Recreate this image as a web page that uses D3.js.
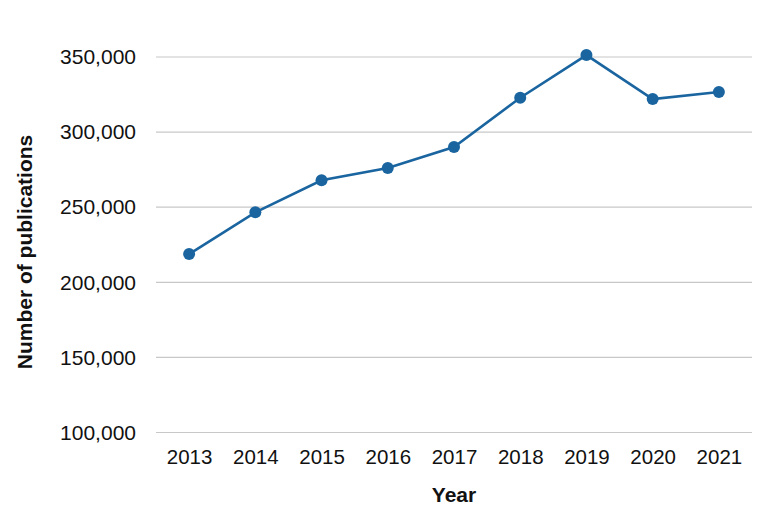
<!DOCTYPE html>
<html>
<head>
<meta charset="utf-8">
<script src="https://cdn.jsdelivr.net/npm/d3@7"></script>
<style>
  body { margin: 0; background: #fff; }
  svg { display: block; font-family: "Liberation Sans", Arial, sans-serif; }
  .tick text { fill: #111; }
</style>
</head>
<body>
<div id="chart"></div>
<script>
// data
var years = ["2013", "2014", "2015", "2016", "2017", "2018", "2019", "2020", "2021"];
var publications = [218800, 246600, 267900, 276100, 290100, 322900, 351300, 322000, 326700];
var yTicks = [100000, 150000, 200000, 250000, 300000, 350000];

var W = 780, H = 520;
var margin = {top: 57, right: 28, bottom: 87.5, left: 156};
var width = W - margin.left - margin.right;
var height = H - margin.top - margin.bottom;

var svg = d3.select("#chart").append("svg")
    .attr("width", W)
    .attr("height", H);

var g = svg.append("g")
    .attr("transform", "translate(" + margin.left + "," + margin.top + ")");

var x = d3.scalePoint()
    .domain(years)
    .range([0, width])
    .padding(0.5);

var y = d3.scaleLinear()
    .domain([100000, 350000])
    .range([height, 0]);

var fmt = d3.format(",");

// gridlines
g.append("g")
    .selectAll("line")
    .data(yTicks)
    .enter().append("line")
    .attr("x1", 0)
    .attr("x2", width)
    .attr("y1", function(d) { return y(d); })
    .attr("y2", function(d) { return y(d); })
    .attr("stroke", "#c8c8c8")
    .attr("stroke-width", 1.2);

// y axis labels
var yAxis = g.append("g")
    .call(d3.axisLeft(y).tickValues(yTicks).tickFormat(fmt).tickSize(0).tickPadding(20));
yAxis.select(".domain").remove();
yAxis.selectAll("text")
    .attr("font-size", 21)
    .attr("font-family", "Liberation Sans, Arial, sans-serif");

// x axis labels
var xAxis = g.append("g")
    .attr("transform", "translate(0," + height + ")")
    .call(d3.axisBottom(x).tickSize(0).tickPadding(17));
xAxis.select(".domain").remove();
xAxis.selectAll("text")
    .attr("font-size", 20.5)
    .attr("font-family", "Liberation Sans, Arial, sans-serif");

// axis titles
svg.append("text")
    .attr("x", margin.left + width / 2)
    .attr("y", 502)
    .attr("text-anchor", "middle")
    .attr("font-size", 21)
    .attr("font-weight", "bold")
    .attr("fill", "#111")
    .text("Year");

svg.append("text")
    .attr("transform", "translate(32," + 252 + ") rotate(-90)")
    .attr("text-anchor", "middle")
    .attr("font-size", 21)
    .attr("font-weight", "bold")
    .attr("fill", "#111")
    .text("Number of publications");

// line + points
var line = d3.line()
    .x(function(d, i) { return x(years[i]); })
    .y(function(d) { return y(d); });

g.append("path")
    .datum(publications)
    .attr("fill", "none")
    .attr("stroke", "#1a65a0")
    .attr("stroke-width", 2.6)
    .attr("d", line);

g.append("g")
    .selectAll("circle")
    .data(publications)
    .enter().append("circle")
    .attr("cx", function(d, i) { return x(years[i]); })
    .attr("cy", function(d) { return y(d); })
    .attr("r", 6)
    .attr("fill", "#1a65a0");
</script>
</body>
</html>
